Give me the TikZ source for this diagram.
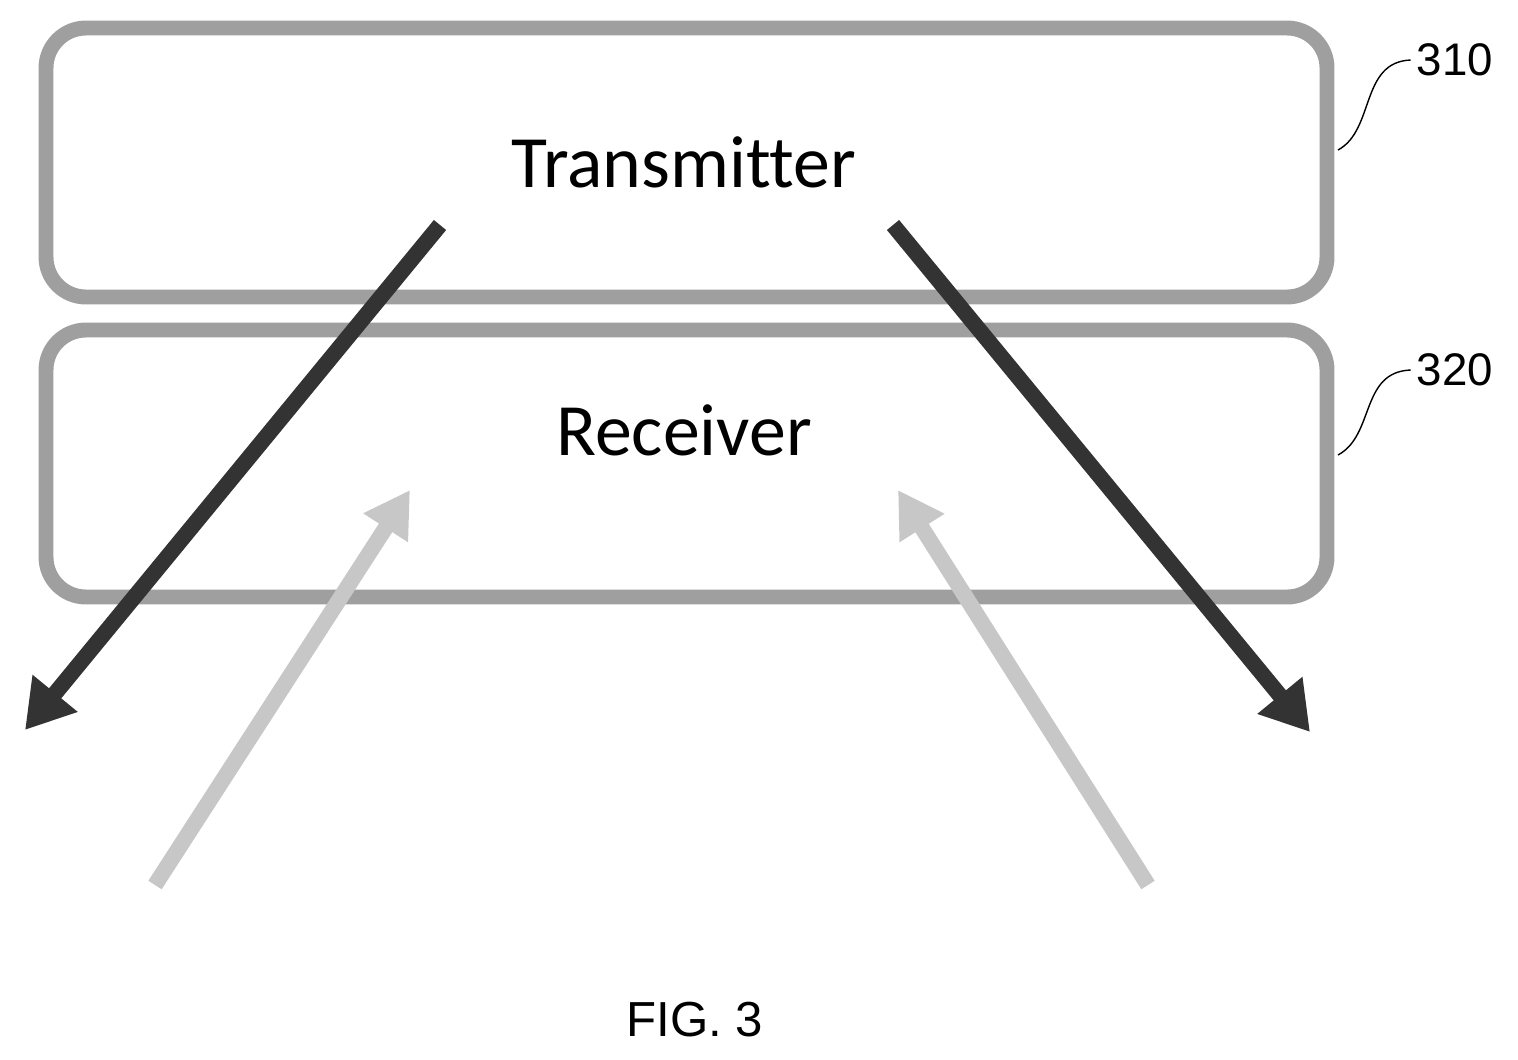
\documentclass[tikz,border=0pt]{standalone}
\usepackage{fontspec}
\setmainfont{Carlito}[Ligatures=NoCommon]
\newfontfamily\arialf{Liberation Sans}
\usetikzlibrary{arrows.meta}
\begin{document}
\begin{tikzpicture}[x=0.02cm,y=-0.02cm,
  box/.style={draw=gray!75,line width=8.5pt,rounded corners=0.8cm},
  dark/.style={draw=black!80,line width=9pt,-{Triangle[width=1.1cm,length=0.95cm]}},
  light/.style={draw=black!22,line width=9pt,-{Triangle[width=1.0cm,length=0.9cm]}},
  lbl/.style={font=\arialf\fontsize{26pt}{30pt}\selectfont}]
\useasboundingbox (0,0) rectangle (1518,1059);
\draw[box] (46,28) rectangle (1327,297);
\draw[box] (46,330) rectangle (1327,597);
\node (tx) at (684,162) {\fontsize{42pt}{48pt}\selectfont Transmitter};
\node (rx) at (684,430) {\fontsize{42pt}{48pt}\selectfont Receiver};
\node[lbl] (l310) at (1455,60) {310};
\node[lbl] (l320) at (1455,370) {320};
\draw[line width=0.8pt] (l310.west) .. controls (1360,62) and (1375,130) .. (1338,150);
\draw[line width=0.8pt] (l320.west) .. controls (1360,372) and (1375,435) .. (1338,455);
\coordinate (a1s) at (440,225); \coordinate (a1e) at (25,730);
\coordinate (a2s) at (893,225); \coordinate (a2e) at (1310,732);
\coordinate (b1s) at (155,885); \coordinate (b1e) at (410,490);
\coordinate (b2s) at (1148,885); \coordinate (b2e) at (898,490);
\draw[light] (b1s) -- (b1e);
\draw[light] (b2s) -- (b2e);
\draw[dark] (a1s) -- (a1e);
\draw[dark] (a2s) -- (a2e);
\node[font=\arialf\fontsize{28pt}{32pt}\selectfont] (fig) at (695,1020) {FIG. 3};
\end{tikzpicture}
\end{document}
